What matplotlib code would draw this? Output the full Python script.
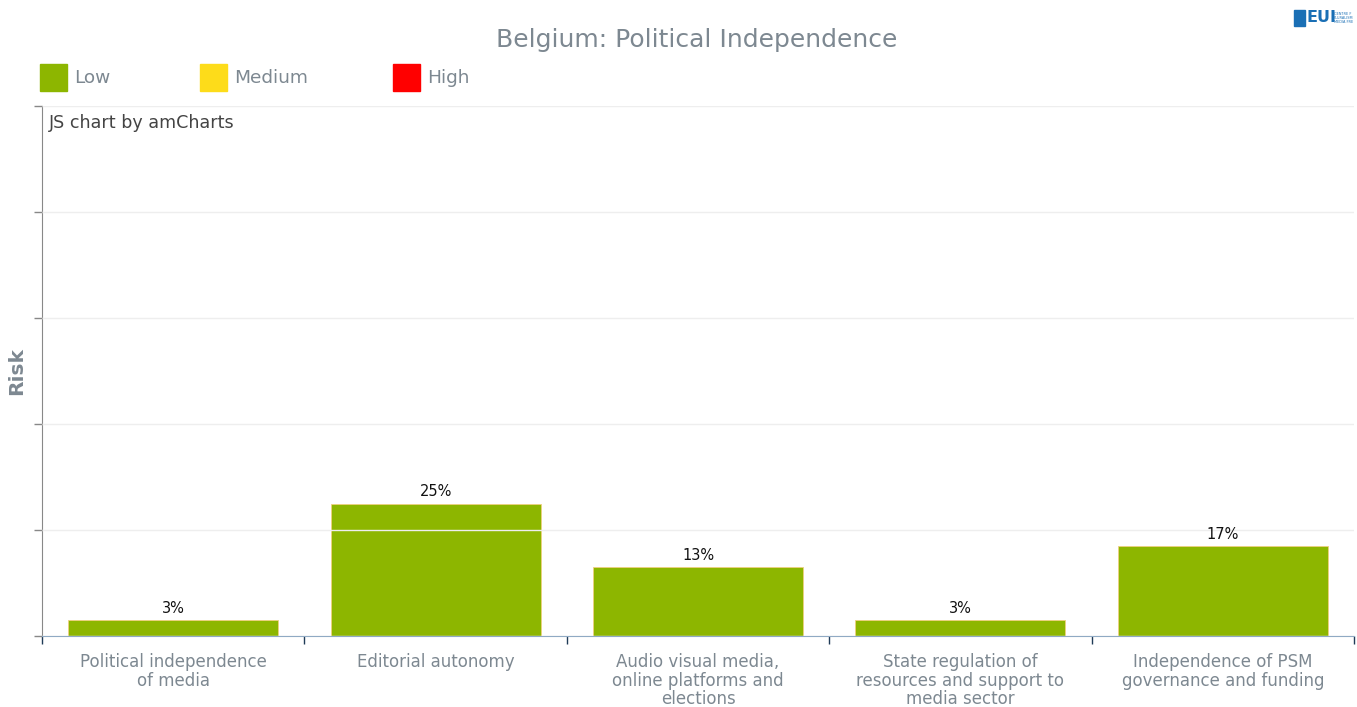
import matplotlib
matplotlib.use('Agg')
import matplotlib.pyplot as plt
from matplotlib.patches import Rectangle

plt.rcParams['font.family'] = ['DejaVu Sans']

categories = ['Political independence\nof media', 'Editorial autonomy',
              'Audio visual media,\nonline platforms and\nelections',
              'State regulation of\nresources and support to\nmedia sector',
              'Independence of PSM\ngovernance and funding']
risk = [3, 25, 13, 3, 17]
legend_labels = ['Low', 'Medium', 'High']
legend_colors = ['#8db600', '#fddc1a', '#ff0000']

GRAY = '#7d8891'

fig = plt.figure(figsize=(13.57, 7.07), dpi=100)
ax = fig.add_axes([42 / 1357, 1 - 636 / 707, 1312 / 1357, 530 / 707])

xs = list(range(len(categories)))
ax.bar(xs, risk, width=0.8, color=legend_colors[0], edgecolor='#f0d080', linewidth=0.6, zorder=2)
for x, v in zip(xs, risk):
    ax.text(x, v + 0.8, f'{v}%', ha='center', va='bottom', fontsize=10.5, color='#111111')

ax.set_xlim(-0.5, len(categories) - 0.5)
ax.set_ylim(0, 100)
ax.set_yticks([0, 20, 40, 60, 80, 100])
ax.set_yticklabels([])
ax.yaxis.grid(True, color='#eeeeee', linewidth=1, zorder=3)
ax.set_axisbelow(False)
ax.tick_params(axis='y', length=6, color='#888888', width=1)

ax.set_xticks([i - 0.5 for i in range(len(categories) + 1)])
ax.set_xticklabels([])
ax.tick_params(axis='x', length=6, color='#1f3b57', width=1)
for x, lab in zip(xs, categories):
    ax.text(x, -3.3, lab, ha='center', va='top', fontsize=12, color=GRAY, linespacing=1.03)

for s in ['top', 'right']:
    ax.spines[s].set_visible(False)
ax.spines['left'].set_color('#888888')
ax.spines['bottom'].set_color('#90aac4')
ax.spines['bottom'].set_zorder(4)

ax.text(0.005, 0.985, 'JS chart by amCharts', transform=ax.transAxes, ha='left', va='top',
        fontsize=12.6, color='#444444')

fig.text(17 / 1357, 1 - 371 / 707, 'Risk', rotation=90, ha='center', va='center',
         fontsize=14.5, fontweight='bold', color=GRAY)
fig.text(697 / 1357, 1 - 40 / 707, 'Belgium: Political Independence', ha='center', va='center',
         fontsize=18, color=GRAY)

# legend
legend_x = [40, 200, 393]
for x0, lab, col in zip(legend_x, legend_labels, legend_colors):
    fig.patches.append(Rectangle((x0 / 1357, 1 - 91 / 707), 27 / 1357, 27 / 707,
                                 transform=fig.transFigure, color=col))
    fig.text((x0 + 34) / 1357, 1 - 78 / 707, lab, ha='left', va='center', fontsize=13.3, color=GRAY)

# logo
fig.patches.append(Rectangle((1294 / 1357, 1 - 26 / 707), 11 / 1357, 16 / 707,
                             transform=fig.transFigure, color='#1a6fb5'))
fig.text(1306 / 1357, 1 - 18 / 707, 'EUI', ha='left', va='center', fontsize=11.5,
         fontweight='bold', color='#1a6fb5')
fig.text(1334 / 1357, 1 - 18 / 707, 'CENTRE F\nPLURALISM\nMEDIA FRE', ha='left', va='center',
         fontsize=2.5, color='#1a6fb5', linespacing=1.0)

fig.savefig('out.png', dpi=100)
